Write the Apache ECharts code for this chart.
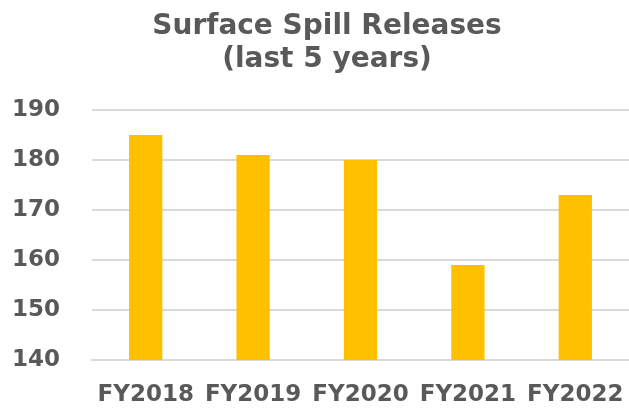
<!DOCTYPE html>
<html>
<head>
<meta charset="utf-8">
<script src="https://cdn.jsdelivr.net/npm/echarts@6/dist/echarts.min.js"></script>
<style>html,body{margin:0;padding:0;background:#fff;}#c{width:629px;height:409px;}</style>
</head>
<body>
<div id="c"></div>
<script>
const categories = ["FY2018", "FY2019", "FY2020", "FY2021", "FY2022"];
const releases = [185, 181, 180, 159, 173];
const yTicks = [140, 150, 160, 170, 180, 190];

const chart = echarts.init(document.getElementById('c'), null, {renderer: 'canvas'});
const FONT = '"DejaVu Sans", sans-serif';
chart.setOption({
  animation: false,
  backgroundColor: '#ffffff',
  title: {
    text: 'Surface Spill Releases\n(last 5 years)',
    left: 322, top: 5, textAlign: 'center',
    textStyle: {fontFamily: FONT, fontWeight: 'bold', fontSize: 28, color: '#595959', lineHeight: 33}
  },
  grid: {left: 92, right: 0, top: 110, bottom: 49, containLabel: false},
  xAxis: {
    type: 'category', data: categories,
    axisLine: {show: true, lineStyle: {color: '#d9d9d9', width: 2}},
    axisTick: {show: false},
    axisLabel: {interval: 0, margin: 24, fontFamily: FONT, fontWeight: 'bold', fontSize: 23, color: '#595959'}
  },
  yAxis: {
    type: 'value', min: yTicks[0], max: yTicks[yTicks.length - 1], interval: 10,
    axisLine: {show: false}, axisTick: {show: false},
    splitLine: {lineStyle: {color: '#d9d9d9', width: 2}},
    axisLabel: {margin: 32, fontFamily: FONT, fontWeight: 'bold', fontSize: 23, color: '#595959'}
  },
  series: [{
    type: 'bar', data: releases, barWidth: '31%',
    itemStyle: {color: '#FFC000'}
  }]
});
</script>
</body>
</html>
